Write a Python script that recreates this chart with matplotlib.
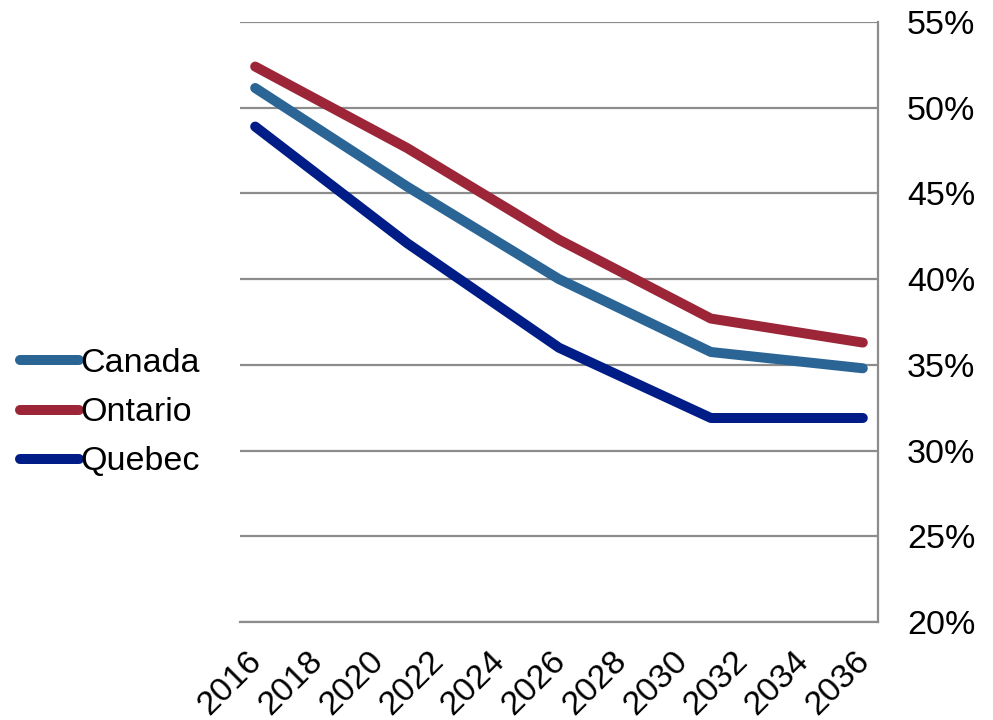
import matplotlib
matplotlib.use("Agg")
import matplotlib.pyplot as plt
from matplotlib.ticker import FuncFormatter
from matplotlib.transforms import ScaledTranslation

plt.rcParams['font.family'] = ['Liberation Sans', 'DejaVu Sans']

years = [2016, 2021, 2026, 2031, 2036]
canada = [51.15, 45.4, 40.0, 35.75, 34.8]
ontario = [52.4, 47.65, 42.3, 37.7, 36.3]
quebec = [48.9, 42.1, 36.0, 31.9, 31.9]

tick_years = list(range(2016, 2037, 2))
y_ticks = [20, 25, 30, 35, 40, 45, 50, 55]

series = [
    ("Canada", canada, "#2A6596"),
    ("Ontario", ontario, "#9C2638"),
    ("Quebec", quebec, "#001C86"),
]

fig = plt.figure(figsize=(9.93, 7.2), dpi=100)
ax = fig.add_axes([240 / 993, (720 - 622) / 720, 638 / 993, 600 / 720])

for name, vals, color in series:
    ax.plot(years, vals, color=color, lw=7.2, solid_capstyle='round',
            solid_joinstyle='round', label=name, zorder=3)

ax.set_xlim(2015.5, 2036.5)
ax.set_ylim(20, 55)
ax.set_yticks(y_ticks)
ax.yaxis.set_major_formatter(FuncFormatter(lambda v, p: f"{v:.0f}%"))
ax.yaxis.tick_right()
ax.set_xticks(tick_years)
ax.set_xticklabels([str(y) for y in tick_years], rotation=45, ha='right',
                   va='top', rotation_mode='anchor')

ax.grid(axis='y', color='#8c8c8c', lw=1.6, zorder=1)
ax.tick_params(axis='y', length=0, labelsize=24.5, pad=21)
ax.tick_params(axis='x', length=0, labelsize=24.5, pad=17)

# nudge the slanted year labels a little to the left
shift = ScaledTranslation(-9 / 100, 0, fig.dpi_scale_trans)
for lbl in ax.get_xticklabels():
    lbl.set_transform(lbl.get_transform() + shift)

for s in ['top', 'left']:
    ax.spines[s].set_visible(False)
for s in ['right', 'bottom']:
    ax.spines[s].set_color('#8c8c8c')
    ax.spines[s].set_linewidth(1.6)

fig.legend(loc='center left', bbox_to_anchor=(0.003, 0.4265), frameon=False,
           fontsize=24.5, handlelength=1.72, handletextpad=0.05,
           labelspacing=0.53, borderpad=0)

fig.savefig("out.png", dpi=100)
